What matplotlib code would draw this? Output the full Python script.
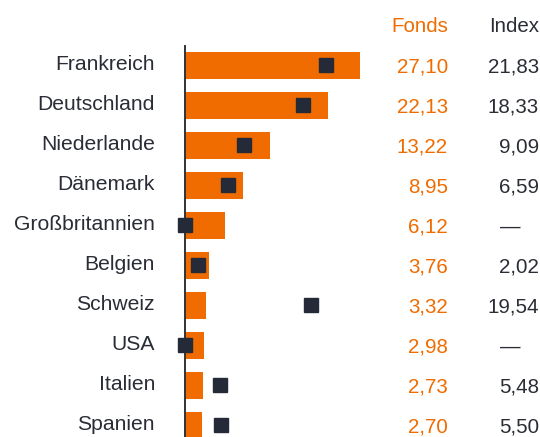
import matplotlib
matplotlib.use("Agg")
import matplotlib.pyplot as plt
from matplotlib.transforms import blended_transform_factory

countries = ["Frankreich", "Deutschland", "Niederlande", "Dänemark", "Großbritannien",
             "Belgien", "Schweiz", "USA", "Italien", "Spanien"]
fonds = [27.10, 22.13, 13.22, 8.95, 6.12, 3.76, 3.32, 2.98, 2.73, 2.70]
index = [21.83, 18.33, 9.09, 6.59, None, 2.02, 19.54, None, 5.48, 5.50]

ORANGE = "#F06C00"
NAVY = "#252A38"
TEXT = "#2B2D36"

plt.rcParams["font.family"] = ["Liberation Sans", "DejaVu Sans"]
W, H, DPI = 540, 437, 100
fig = plt.figure(figsize=(W / DPI, H / DPI), dpi=DPI)

# axes placed in pixel terms: left edge 185, top 46, bottom at figure edge
ax_left, ax_top, ax_w = 185, 46, 185
ax = fig.add_axes([ax_left / W, 0, ax_w / W, (H - ax_top) / H])
ypos = list(range(len(countries)))
ax.barh(ypos, fonds, height=0.675, color=ORANGE, zorder=1)
idx_plot = [v if v is not None else 0 for v in index]
ax.plot(idx_plot, ypos, linestyle="none", marker="s", markersize=14 * 72 / DPI,
        color=NAVY, zorder=3, clip_on=False)

ax.set_xlim(0, ax_w / 6.458)
ax.set_ylim(9.3, -0.475)
for s in ["top", "right", "bottom"]:
    ax.spines[s].set_visible(False)
ax.spines["left"].set_color("#333333")
ax.spines["left"].set_linewidth(1.4)
ax.spines["left"].set_zorder(2)
ax.set_xticks([])
ax.set_yticks([])

fs_label = 15.2
fs_num = 14.8
tr = blended_transform_factory(fig.transFigure, ax.transData)
for i, (c, f, v) in enumerate(zip(countries, fonds, index)):
    ax.text(155 / W, i, c, transform=tr, ha="right", va="center", fontsize=fs_label,
            color=TEXT)
    ax.text(448 / W, i + 0.05, f"{f:.2f}".replace(".", ","), transform=tr,
            ha="right", va="center", fontsize=fs_num, color=ORANGE)
    if v is None:
        ax.text(510 / W, i + 0.05, "—", transform=tr, ha="center", va="center",
                fontsize=fs_num, color=TEXT)
    else:
        ax.text(539 / W, i + 0.05, f"{v:.2f}".replace(".", ","), transform=tr,
                ha="right", va="center", fontsize=fs_num, color=TEXT)

fig.text(448 / W, 1 - 27 / H, "Fonds", ha="right", va="center", fontsize=fs_num, color=ORANGE)
fig.text(539 / W, 1 - 27 / H, "Index", ha="right", va="center", fontsize=fs_num, color=TEXT)

fig.savefig("out.png", dpi=DPI)
